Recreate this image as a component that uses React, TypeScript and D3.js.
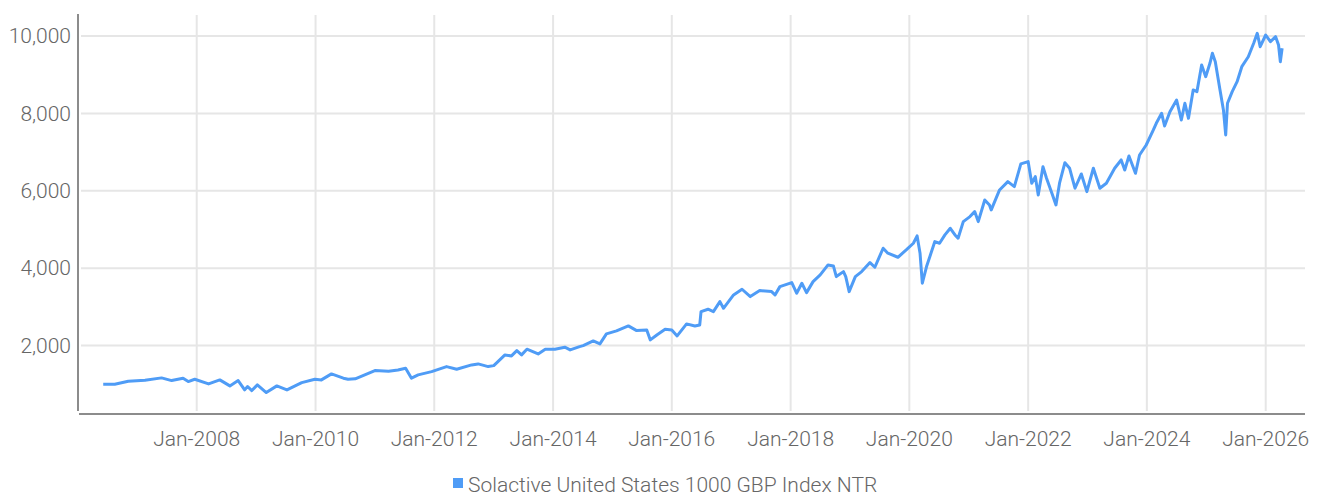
import React from "react"
import * as d3 from "d3"

// index level
const dates = [
  "2006-06-05", "2006-08-15", "2006-11-06", "2007-02-17", "2007-05-30", "2007-07-31", "2007-10-09", "2007-11-10",
  "2007-12-20", "2008-03-14", "2008-05-22", "2008-07-23", "2008-09-12", "2008-10-22", "2008-11-09", "2008-12-05",
  "2009-01-08", "2009-03-04", "2009-05-08", "2009-07-09", "2009-10-08", "2009-12-28", "2010-02-06", "2010-04-09",
  "2010-06-21", "2010-07-20", "2010-09-02", "2011-01-01", "2011-03-26", "2011-05-23", "2011-07-09", "2011-08-14",
  "2011-09-24", "2011-12-16", "2012-03-17", "2012-05-18", "2012-08-18", "2012-09-27", "2012-11-28", "2013-01-01",
  "2013-03-11", "2013-04-20", "2013-05-23", "2013-06-21", "2013-07-24", "2013-10-01", "2013-11-14", "2014-01-12",
  "2014-03-14", "2014-04-16", "2014-06-13", "2014-07-05", "2014-09-05", "2014-10-16", "2014-11-25", "2015-01-26",
  "2015-04-09", "2015-05-30", "2015-07-31", "2015-08-22", "2015-10-01", "2015-11-21", "2016-01-01", "2016-02-03",
  "2016-04-01", "2016-05-22", "2016-06-21", "2016-06-29", "2016-08-11", "2016-09-13", "2016-10-23", "2016-11-14",
  "2017-01-15", "2017-03-08", "2017-04-28", "2017-06-25", "2017-09-06", "2017-09-27", "2017-10-27", "2018-01-08",
  "2018-02-07", "2018-03-11", "2018-04-09", "2018-05-19", "2018-07-02", "2018-08-19", "2018-09-21", "2018-10-09",
  "2018-11-22", "2018-12-06", "2018-12-27", "2019-02-03", "2019-03-14", "2019-05-04", "2019-06-03", "2019-07-24",
  "2019-08-22", "2019-10-23", "2019-12-13", "2020-01-26", "2020-02-18", "2020-03-07", "2020-03-21", "2020-04-16",
  "2020-06-06", "2020-07-05", "2020-08-07", "2020-09-09", "2020-10-08", "2020-10-27", "2020-11-28", "2021-01-08",
  "2021-02-06", "2021-02-28", "2021-04-09", "2021-05-08", "2021-05-19", "2021-07-09", "2021-08-29", "2021-10-08",
  "2021-11-17", "2022-01-01", "2022-01-23", "2022-02-14", "2022-03-04", "2022-04-02", "2022-04-24", "2022-05-27",
  "2022-06-21", "2022-07-13", "2022-08-15", "2022-09-13", "2022-10-16", "2022-11-24", "2022-12-28", "2023-02-06",
  "2023-03-18", "2023-04-27", "2023-06-17", "2023-07-27", "2023-08-18", "2023-09-13", "2023-10-23", "2023-11-17",
  "2023-12-28", "2024-02-10", "2024-02-28", "2024-04-01", "2024-04-19", "2024-05-22", "2024-07-02", "2024-07-31",
  "2024-08-22", "2024-09-13", "2024-10-12", "2024-11-04", "2024-12-03", "2024-12-28", "2025-01-23", "2025-02-07",
  "2025-02-25", "2025-03-26", "2025-04-16", "2025-04-30", "2025-05-11", "2025-06-09", "2025-07-09", "2025-08-07",
  "2025-09-16", "2025-10-19", "2025-11-10", "2025-11-28", "2026-01-01", "2026-01-30", "2026-03-03", "2026-03-21",
  "2026-04-01", "2026-04-12",
]
const values = [
  1000, 1000, 1078, 1103, 1163, 1093, 1155, 1067,
  1128, 1008, 1111, 956, 1093, 853, 940, 835,
  982, 783, 956, 853, 1041, 1128, 1111, 1266,
  1155, 1128, 1140, 1351, 1335, 1369, 1413, 1155,
  1240, 1325, 1455, 1387, 1498, 1524, 1455, 1480,
  1757, 1731, 1868, 1757, 1904, 1783, 1904, 1904,
  1956, 1886, 1971, 1997, 2118, 2041, 2299, 2377,
  2506, 2385, 2403, 2144, 2273, 2420, 2403, 2248,
  2558, 2506, 2532, 2876, 2938, 2876, 3134, 2962,
  3307, 3454, 3264, 3419, 3393, 3307, 3522, 3626,
  3351, 3609, 3367, 3651, 3824, 4083, 4057, 3781,
  3910, 3781, 3393, 3781, 3910, 4143, 4022, 4514,
  4385, 4281, 4470, 4643, 4832, 4385, 3609, 4040,
  4686, 4643, 4858, 5030, 4858, 4772, 5203, 5332,
  5461, 5203, 5762, 5633, 5504, 6021, 6236, 6107,
  6693, 6752, 6194, 6365, 5892, 6623, 6323, 5935,
  5633, 6194, 6726, 6581, 6065, 6434, 5977, 6581,
  6065, 6194, 6581, 6796, 6537, 6899, 6451, 6925,
  7183, 7571, 7744, 8002, 7674, 8044, 8346, 7829,
  8261, 7873, 8605, 8561, 9251, 8948, 9294, 9553,
  9336, 8605, 8088, 7442, 8261, 8561, 8819, 9207,
  9465, 9811, 10070, 9724, 10026, 9853, 9982, 9767,
  9336, 9682,
]
const yTicks = [2000, 4000, 6000, 8000, 10000]
const xTickYears = [2008, 2010, 2012, 2014, 2016, 2018, 2020, 2022, 2024, 2026]
const seriesName = "Solactive United States 1000 GBP Index NTR"

const W = 1323
const H = 498
const left = 79
const right = 1305
const top = 14
const bottom = 413
const BLUE = "#4f9cf6"
const FONT = "Roboto, 'Noto Sans', sans-serif"

export default function App() {
  const parse = d3.timeParse("%Y-%m-%d")
  const data = dates.map((d, i) => ({ date: parse(d) as Date, value: values[i] }))

  const x = d3
    .scaleTime()
    .domain([new Date(2008, 0, 1), new Date(2026, 0, 1)])
    .range([196.7, 1265.7])
  const y = d3.scaleLinear().domain([2000, 10000]).range([345.5, 36])

  const line = d3
    .line<{ date: Date; value: number }>()
    .x((d) => x(d.date))
    .y((d) => y(d.value))

  const fmt = d3.format(",")

  return (
    <svg
      width={W}
      height={H}
      style={{ position: "absolute", left: 0, top: 0, background: "#fff" }}
      fontFamily={FONT}
    >
      {/* grid */}
      {yTicks.map((t) => (
        <line key={"gy" + t} x1={left + 2} x2={right} y1={y(t)} y2={y(t)} stroke="#e6e6e6" strokeWidth={2} />
      ))}
      {xTickYears.map((yr) => {
        const xx = x(new Date(yr, 0, 1))
        return <line key={"gx" + yr} x1={xx} x2={xx} y1={top + 1} y2={bottom - 2} stroke="#e6e6e6" strokeWidth={2} />
      })}

      {/* axes */}
      <line x1={left - 1} x2={left - 1} y1={top} y2={bottom - 2} stroke="#8c8c8c" strokeWidth={2} />
      <line x1={left} x2={right} y1={bottom + 1} y2={bottom + 1} stroke="#8c8c8c" strokeWidth={2} />

      {/* tick labels */}
      {yTicks.map((t) => (
        <text key={"ly" + t} x={71} y={y(t)} dy="0.35em" textAnchor="end" fontSize={21} fontWeight={300} fill="#666">
          {fmt(t)}
        </text>
      ))}
      {xTickYears.map((yr) => (
        <text
          key={"lx" + yr}
          x={x(new Date(yr, 0, 1))}
          y={446}
          textAnchor="middle"
          fontSize={21}
          fontWeight={300}
          fill="#666"
        >
          {"Jan-" + yr}
        </text>
      ))}

      {/* series */}
      <path d={line(data) || ""} fill="none" stroke={BLUE} strokeWidth={3} strokeLinejoin="round" />

      {/* legend */}
      <rect x={453} y={478} width={10} height={10} fill={BLUE} />
      <text x={468} y={492} fontSize={21} fontWeight={300} fill="#666">
        {seriesName}
      </text>
    </svg>
  )
}
